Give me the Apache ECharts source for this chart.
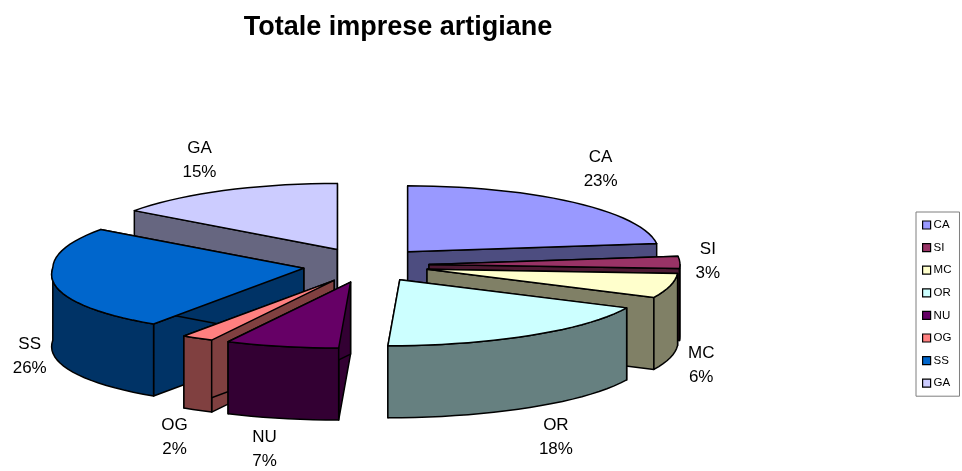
<!DOCTYPE html>
<html>
<head>
<meta charset="utf-8">
<style>html,body{margin:0;padding:0;background:#fff}#chart{width:962px;height:471px}</style>
<script src="https://cdn.jsdelivr.net/npm/echarts@6/dist/echarts.min.js"></script>
</head>
<body>
<div id="chart"></div>
<script>
// Craft businesses by province, share of the total (percent)
const provinces = ['CA', 'SI', 'MC', 'OR', 'NU', 'OG', 'SS', 'GA'];
const shares = [23, 3, 6, 18, 7, 2, 26, 15];
const topColors = ['#9999FF', '#993366', '#FFFFCC', '#CCFFFF', '#660066', '#FF8080', '#0066CC', '#CCCCFF'];
const sideColors = ['#4D4D80', '#4D1A33', '#808066', '#668080', '#330033', '#804040', '#003366', '#666680'];

// Label offset from the middle of each slice's rim
const labelOffsets = [[27, -33], [28, -1], [31, 80], [26, 102], [-17, 103], [-23, 99], [-23, 76], [-24, -30]];

// Projection of the tilted, exploded pie
const view = {
  cx: 366, cy: 265,        // pie centre on the page
  rx: 251, ry: 66,         // ellipse radii of the top face
  depth: 72,               // height of the extruded side
  explodeX: 63, explodeY: 17.5,
  skew: -0.18,             // front rim leans left
  apexSkew: -0.1,          // front-left slices pulled forward lean left as well
  flare: 0.05              // front rim widens with perspective
};

const total = shares.reduce((a, b) => a + b, 0);
const rad = d => d * Math.PI / 180;

// Angular extent of every slice, clockwise from 12 o'clock
let running = 0;
const slices = shares.map((v, i) => {
  const start = running / total * 360;
  running += v;
  const end = running / total * 360;
  const mid = (start + end) / 2;
  const forward = mid > 180 ? Math.max(0, -view.explodeY * Math.cos(rad(mid))) : 0;
  return {
    i, value: v, start, end, mid,
    apex: [
      view.cx + view.explodeX * Math.sin(rad(mid)) + view.apexSkew * forward,
      view.cy - view.explodeY * Math.cos(rad(mid))
    ]
  };
});

function rim(slice, deg) {
  const d = -view.ry * Math.cos(rad(deg));
  const front = Math.max(0, d);
  const x = view.rx * Math.sin(rad(deg)) * (1 + view.flare * front / view.ry) + view.skew * front;
  return [slice.apex[0] + x, slice.apex[1] + d];
}
const drop = p => [p[0], p[1] + view.depth];

function arcPoints(slice, from, to) {
  const pts = [];
  const n = Math.max(2, Math.ceil((to - from) / 3));
  for (let k = 0; k <= n; k++) pts.push(rim(slice, from + (to - from) * k / n));
  return pts;
}

function sliceElements(slice) {
  const top = topColors[slice.i], side = sideColors[slice.i];
  const poly = (points, fill) => ({
    type: 'polygon',
    shape: { points },
    style: { fill, stroke: '#000', lineWidth: 1.5, lineJoin: 'round' }
  });
  const kids = [];
  const a = slice.apex;

  // Cut faces running from the centre out to each radial edge
  [slice.start, slice.end].forEach(deg => {
    const p = rim(slice, deg);
    kids.push(poly([a, p, drop(p), drop(a)], side));
  });

  // Outer wall, only where it faces the viewer
  const from = Math.max(slice.start, 90), to = Math.min(slice.end, 270);
  if (to > from) {
    const arc = arcPoints(slice, from, to);
    kids.push(poly(arc.concat(arc.map(drop).reverse()), side));
  }

  // Top face
  kids.push(poly([a].concat(arcPoints(slice, slice.start, slice.end)), top));

  // Province and percentage
  const m = rim(slice, slice.mid);
  const off = labelOffsets[slice.i];
  kids.push({
    type: 'text',
    z2: 10,
    style: {
      text: provinces[slice.i] + '\n' + Math.round(slice.value / total * 100) + '%',
      x: m[0] + off[0], y: m[1] + off[1],
      align: 'center', verticalAlign: 'middle',
      font: '17px "Liberation Sans", Arial, sans-serif',
      lineHeight: 24, fill: '#000'
    }
  });
  return { type: 'group', children: kids };
}

// Paint from the back of the pie to the front
const paintOrder = slices.slice().sort((p, q) => q.apex[1] < p.apex[1] ? 1 : -1);

const chart = echarts.init(document.getElementById('chart'), null, { renderer: 'canvas' });
chart.setOption({
  animation: false,
  backgroundColor: '#fff',
  title: {
    text: 'Totale imprese artigiane',
    left: 393, top: 9, textAlign: 'center',
    textStyle: { fontFamily: '"Liberation Sans", Arial, sans-serif', fontWeight: 'bold', fontSize: 27, color: '#000' }
  },
  legend: {
    data: provinces,
    orient: 'vertical',
    left: 916, top: 212,
    padding: [7, 8, 7, 6],
    itemWidth: 8, itemHeight: 8, itemGap: 10.6,
    icon: 'rect',
    borderColor: '#7f7f7f', borderWidth: 1,
    selectedMode: false,
    itemStyle: { borderColor: '#000', borderWidth: 1.2 },
    textStyle: { fontFamily: '"Liberation Sans", Arial, sans-serif', fontSize: 11.5, color: '#000', padding: [0, 0, 0, -2] }
  },
  series: paintOrder.map(s => ({
    type: 'custom',
    name: provinces[s.i],
    coordinateSystem: 'none',
    silent: true,
    itemStyle: { color: topColors[s.i] },
    data: [s.value],
    renderItem: () => sliceElements(s)
  }))
});
</script>
</body>
</html>
